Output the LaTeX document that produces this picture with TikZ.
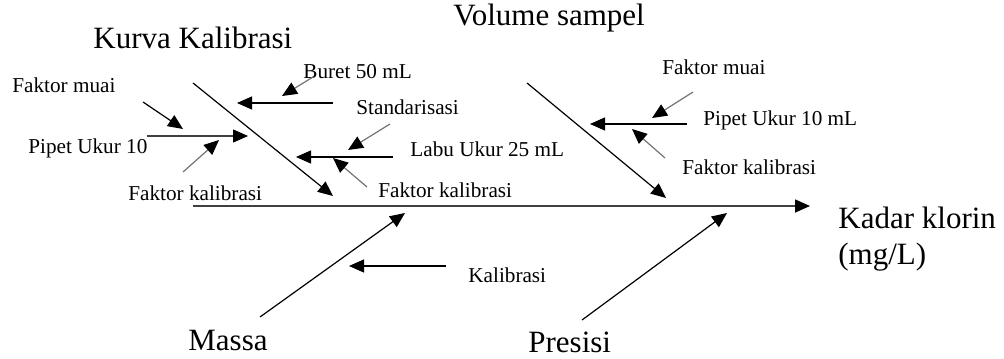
\documentclass[tikz,border=0pt]{standalone}
\usepackage{fontspec}
\setmainfont{Liberation Serif}
\usetikzlibrary{arrows.meta}

\begin{document}
\begin{tikzpicture}[x=0.5pt,y=-0.5pt]
	\tikzset{>={Triangle[length=7.5pt,width=6.5pt]},
		big/.style={font=\fontsize{15.5}{17}\selectfont,inner sep=0pt,anchor=west},
		small/.style={font=\fontsize{10.6}{12}\selectfont,inner sep=0pt,anchor=west},
		bone/.style={line width=0.6pt,->},
		twig/.style={line width=0.6pt,draw=black!55,-{Triangle[length=7.5pt,width=6.5pt,color=black]}}}
	\useasboundingbox (0,0) rectangle (1004,358);
	% spine and head
	\coordinate (S0) at (193,206);
	\coordinate (S1) at (810,206);
	\draw[line width=0.8pt,draw=black!75,-{Triangle[length=7.5pt,width=6.5pt,color=black]}] (S0) -- (S1);
	\node[big] (kadar) at (838,218) {Kadar klorin};
	\node[big] (mgl) at (838,257) {(mg/L)};
	% main bones
	\node[big] (kurva) at (93,38) {Kurva Kalibrasi};
	\node[big] (volume) at (453,18) {Volume sampel};
	\node[big] (massa) at (188,340) {Massa};
	\node[big] (presisi) at (528,342) {Presisi};
	\coordinate (K0) at (193,83);   \coordinate (K1) at (333,196);
	\coordinate (V0) at (527,83);   \coordinate (V1) at (666,198);
	\coordinate (M0) at (260,317);  \coordinate (M1) at (405,213);
	\coordinate (P0) at (582,320);  \coordinate (P1) at (727,213);
	\draw[bone] (K0) -- (K1);
	\draw[bone] (V0) -- (V1);
	\draw[bone] (M0) -- (M1);
	\draw[bone] (P0) -- (P1);
	% Kurva Kalibrasi, right side
	\node[small] (buret) at (303,72) {Buret 50 mL};
	\node[small] (stand) at (356,107) {Standarisasi};
	\node[small] (labu) at (410,149) {Labu Ukur 25 mL};
	\node[small] (fk2) at (378,190) {Faktor kalibrasi};
	\coordinate (b0) at (333,103);  \coordinate (b1) at (237,103);
	\coordinate (b2) at (313,77);   \coordinate (b3) at (282,96);
	\coordinate (l0) at (393,157);  \coordinate (l1) at (296,157);
	\coordinate (s0) at (390,124);  \coordinate (s1) at (348,150);
	\coordinate (f0) at (367,187);  \coordinate (f1) at (333,158);
	\draw[bone] (b0) -- (b1);
	\draw[twig] (b2) -- (b3);
	\draw[bone] (l0) -- (l1);
	\draw[twig] (s0) -- (s1);
	\draw[twig] (f0) -- (f1);
	% Kurva Kalibrasi, left side
	\node[small] (muai1) at (12,85) {Faktor muai};
	\node[small] (pipet1) at (28,148) {Pipet Ukur 10};
	\node[small] (fk1) at (128,193) {Faktor kalibrasi};
	\coordinate (p0) at (147,136);  \coordinate (p1) at (248,136);
	\coordinate (m0) at (143,102);  \coordinate (m1) at (183,129);
	\coordinate (k0) at (183,172);  \coordinate (k1) at (219,140);
	\draw[twig,draw=black!75] (p0) -- (p1);
	\draw[bone] (m0) -- (m1);
	\draw[twig] (k0) -- (k1);
	% Volume sampel
	\node[small] (muai2) at (662,67) {Faktor muai};
	\node[small] (pipet2) at (703,120) {Pipet Ukur 10 mL};
	\node[small] (fk3) at (682,167) {Faktor kalibrasi};
	\coordinate (q0) at (687,124);  \coordinate (q1) at (590,124);
	\coordinate (n0) at (693,92);   \coordinate (n1) at (652,118);
	\coordinate (r0) at (665,158);  \coordinate (r1) at (632,129);
	\draw[bone] (q0) -- (q1);
	\draw[twig] (n0) -- (n1);
	\draw[twig] (r0) -- (r1);
	% Massa
	\node[small] (kal) at (468,275) {Kalibrasi};
	\coordinate (c0) at (446,266);  \coordinate (c1) at (349,266);
	\draw[bone] (c0) -- (c1);
\end{tikzpicture}
\end{document}
